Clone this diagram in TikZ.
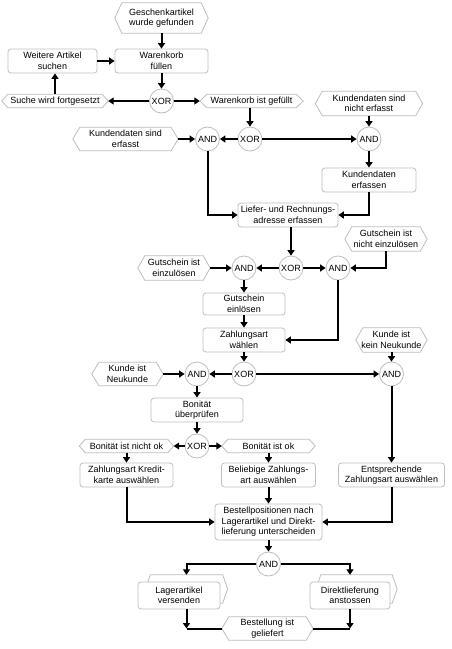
\documentclass[tikz,border=0pt]{standalone}
\usepackage{fontspec}
\setmainfont{Liberation Sans}
\usetikzlibrary{arrows.meta,calc}
\definecolor{shp}{RGB}{190,190,190}
% event: [indent]{name}{x}{y}{w}{h}{text}
\newcommand\EPCev[7][7]{%
  \node[minimum width=#5pt, minimum height=#6pt] (#2) at (#3,#4) {#7};
  \draw[evline] ([xshift=#1pt]#2.north west) -- ([xshift=-#1pt]#2.north east) -- (#2.east)
     -- ([xshift=-#1pt]#2.south east) -- ([xshift=#1pt]#2.south west) -- (#2.west) -- cycle;}
\begin{document}
\begin{tikzpicture}[x=1pt,y=-1pt,
  every node/.style={font=\fontsize{9}{10.5}\selectfont, inner sep=0pt, align=center},
  evline/.style={draw=shp, line width=0.8pt},
  fn/.style={draw=shp, fill=white, rounded corners=3pt, line width=0.8pt},
  conn/.style={circle, draw=shp, fill=white, minimum size=24pt, line width=0.8pt},
  line/.style={line width=2pt, black},
  arr/.style={line, -{Triangle[length=5.5pt,width=7pt]}}]
\fill[white] (0,0) rectangle (452,649);
\useasboundingbox (0,0) rectangle (452,649);

% --- top
\EPCev{geschenk}{161.5}{18}{93}{30}{Geschenkartikel\\wurde gefunden}
\node[fn, minimum width=89pt, minimum height=24pt] (weitere) at (52.5,61) {Weitere Artikel\\suchen};
\node[fn, minimum width=93pt, minimum height=24pt] (wfuell) at (161.5,61) {Warenkorb\\füllen};
\node[conn] (xor1) at (161.5,101) {XOR};
\EPCev[6]{suche}{55}{101}{106}{13}{Suche wird fortgesetzt}
\EPCev[7]{wgef}{251.5}{101}{103}{13}{Warenkorb ist gefüllt}
\EPCev{knicht}{369}{103.5}{107}{24}{Kundendaten sind\\nicht erfasst}
\EPCev{kerf}{125.5}{139}{105}{23}{Kundendaten sind\\erfasst}
\node[conn] (and1) at (207.5,139) {AND};
\node[conn] (xor2) at (250,139) {XOR};
\node[conn] (and2) at (369,139) {AND};
\node[fn, minimum width=94pt, minimum height=24pt] (kerfassen) at (369,180) {Kundendaten\\erfassen};
\node[fn, minimum width=100pt, minimum height=24pt] (liefer) at (288,215) {Liefer- und Rechnungs-\\adresse erfassen};

% --- Gutschein
\EPCev{gnicht}{386}{239}{82}{24}{Gutschein ist\\nicht einzulösen}
\EPCev{gein}{174}{268}{72}{24}{Gutschein ist\\einzulösen}
\node[conn] (and3) at (244,268) {AND};
\node[conn] (xor3) at (291,268) {XOR};
\node[conn] (and4) at (338,268) {AND};
\node[fn, minimum width=82pt, minimum height=22pt] (geinl) at (244,304) {Gutschein\\einlösen};
\node[fn, minimum width=82pt, minimum height=24pt] (zwahl) at (244,340) {Zahlungsart\\wählen};

% --- Kunde
\EPCev{kkein}{391.5}{340}{71}{24}{Kunde ist\\kein Neukunde}
\EPCev{kneu}{127.5}{374}{71}{23}{Kunde ist\\Neukunde}
\node[conn] (and5) at (197,374) {AND};
\node[conn] (xor4) at (244,374) {XOR};
\node[conn] (and6) at (391.5,374) {AND};
\node[fn, minimum width=92pt, minimum height=24pt] (bon) at (197,410) {Bonität\\überprüfen};
\node[conn] (xor5) at (197,446) {XOR};
\EPCev[6]{bnok}{126.5}{446}{94}{13}{Bonität ist nicht ok}
\EPCev[6]{bok}{268.5}{446}{93}{13}{Bonität ist ok}
\node[fn, minimum width=93pt, minimum height=24pt] (kredit) at (126.5,475) {Zahlungsart Kredit-\\karte auswählen};
\node[fn, minimum width=94pt, minimum height=24pt] (belieb) at (268.5,475) {Beliebige Zahlungs-\\art auswählen};
\node[fn, minimum width=106pt, minimum height=24pt] (entspr) at (391.5,475) {Entsprechende\\Zahlungsart auswählen};
\node[fn, minimum width=107pt, minimum height=36pt] (bestell) at (268.5,522) {Bestellpositionen nach\\Lagerartikel und Direkt-\\lieferung unterscheiden};
\node[conn] (and7) at (268.5,564) {AND};

% --- bottom process interfaces
\EPCev[5]{lagerbg}{186.5}{589}{82}{28}{}
\node[fn, minimum width=82pt, minimum height=27pt] (lager) at (179,595.5) {Lagerartikel\\versenden};
\EPCev[5]{direktbg}{356.5}{589}{81}{28}{}
\node[fn, minimum width=80pt, minimum height=27pt] (direkt) at (350,595.5) {Direktlieferung\\anstossen};
\EPCev{best}{267.5}{628.5}{91}{23}{Bestellung ist\\geliefert}
\coordinate (cl) at (186.5,628.5);
\coordinate (cr) at (350,628.5);

% --- connectors
\draw[arr] (geschenk.south) -- (wfuell.north);
\draw[arr] (weitere) -- (wfuell);
\draw[arr] (wfuell) -- (xor1);
\draw[arr] (xor1) -- (suche);
\draw[arr] (suche.north) -- (suche.north |- weitere.south);
\draw[arr] (xor1) -- (wgef);
\draw[arr] (wgef.south -| xor2) -- (xor2.north);
\draw[arr] (xor2) -- (and1);
\draw[arr] (kerf) -- (and1);
\draw[arr] (xor2) -- (and2);
\draw[arr] (knicht.south -| and2) -- (and2.north);
\draw[arr] (and2.south) -- (and2.south |- kerfassen.north);
\draw[arr] (and1.south) |- (liefer.west);
\draw[arr] (kerfassen.south) |- (liefer.east);
\draw[arr] (liefer.south -| xor3) -- (xor3.north);
\draw[arr] (xor3) -- (and3);
\draw[arr] (gein) -- (and3);
\draw[arr] (xor3) -- (and4);
\draw[arr] (gnicht.south) |- (and4.east);
\draw[arr] (and3) -- (geinl);
\draw[arr] (geinl) -- (zwahl);
\draw[arr] (and4.south) |- (zwahl.east);
\draw[arr] (zwahl) -- (xor4);
\draw[arr] (xor4) -- (and5);
\draw[arr] (kneu) -- (and5);
\draw[arr] (xor4) -- (and6);
\draw[arr] (kkein) -- (and6);
\draw[arr] (and5) -- (bon);
\draw[arr] (and6) -- (entspr);
\draw[arr] (bon) -- (xor5);
\draw[arr] (xor5) -- (bnok);
\draw[arr] (xor5) -- (bok);
\draw[arr] (bnok) -- (kredit);
\draw[arr] (bok) -- (belieb);
\draw[arr] (kredit.south) |- (bestell.west);
\draw[arr] (belieb) -- (bestell);
\draw[arr] (entspr.south) |- (bestell.east);
\draw[arr] (bestell) -- (and7);
\draw[arr] (and7.west) -| (lagerbg.north);
\draw[arr] (and7.east) -| ([xshift=-6.5pt]direktbg.north);
\draw[arr] (lager.south -| cl) -- (cl);
\draw[line] (cl) -- (best.west);
\draw[arr] (direkt.south -| cr) -- (cr);
\draw[line] (cr) -- (best.east);
\end{tikzpicture}
\end{document}
